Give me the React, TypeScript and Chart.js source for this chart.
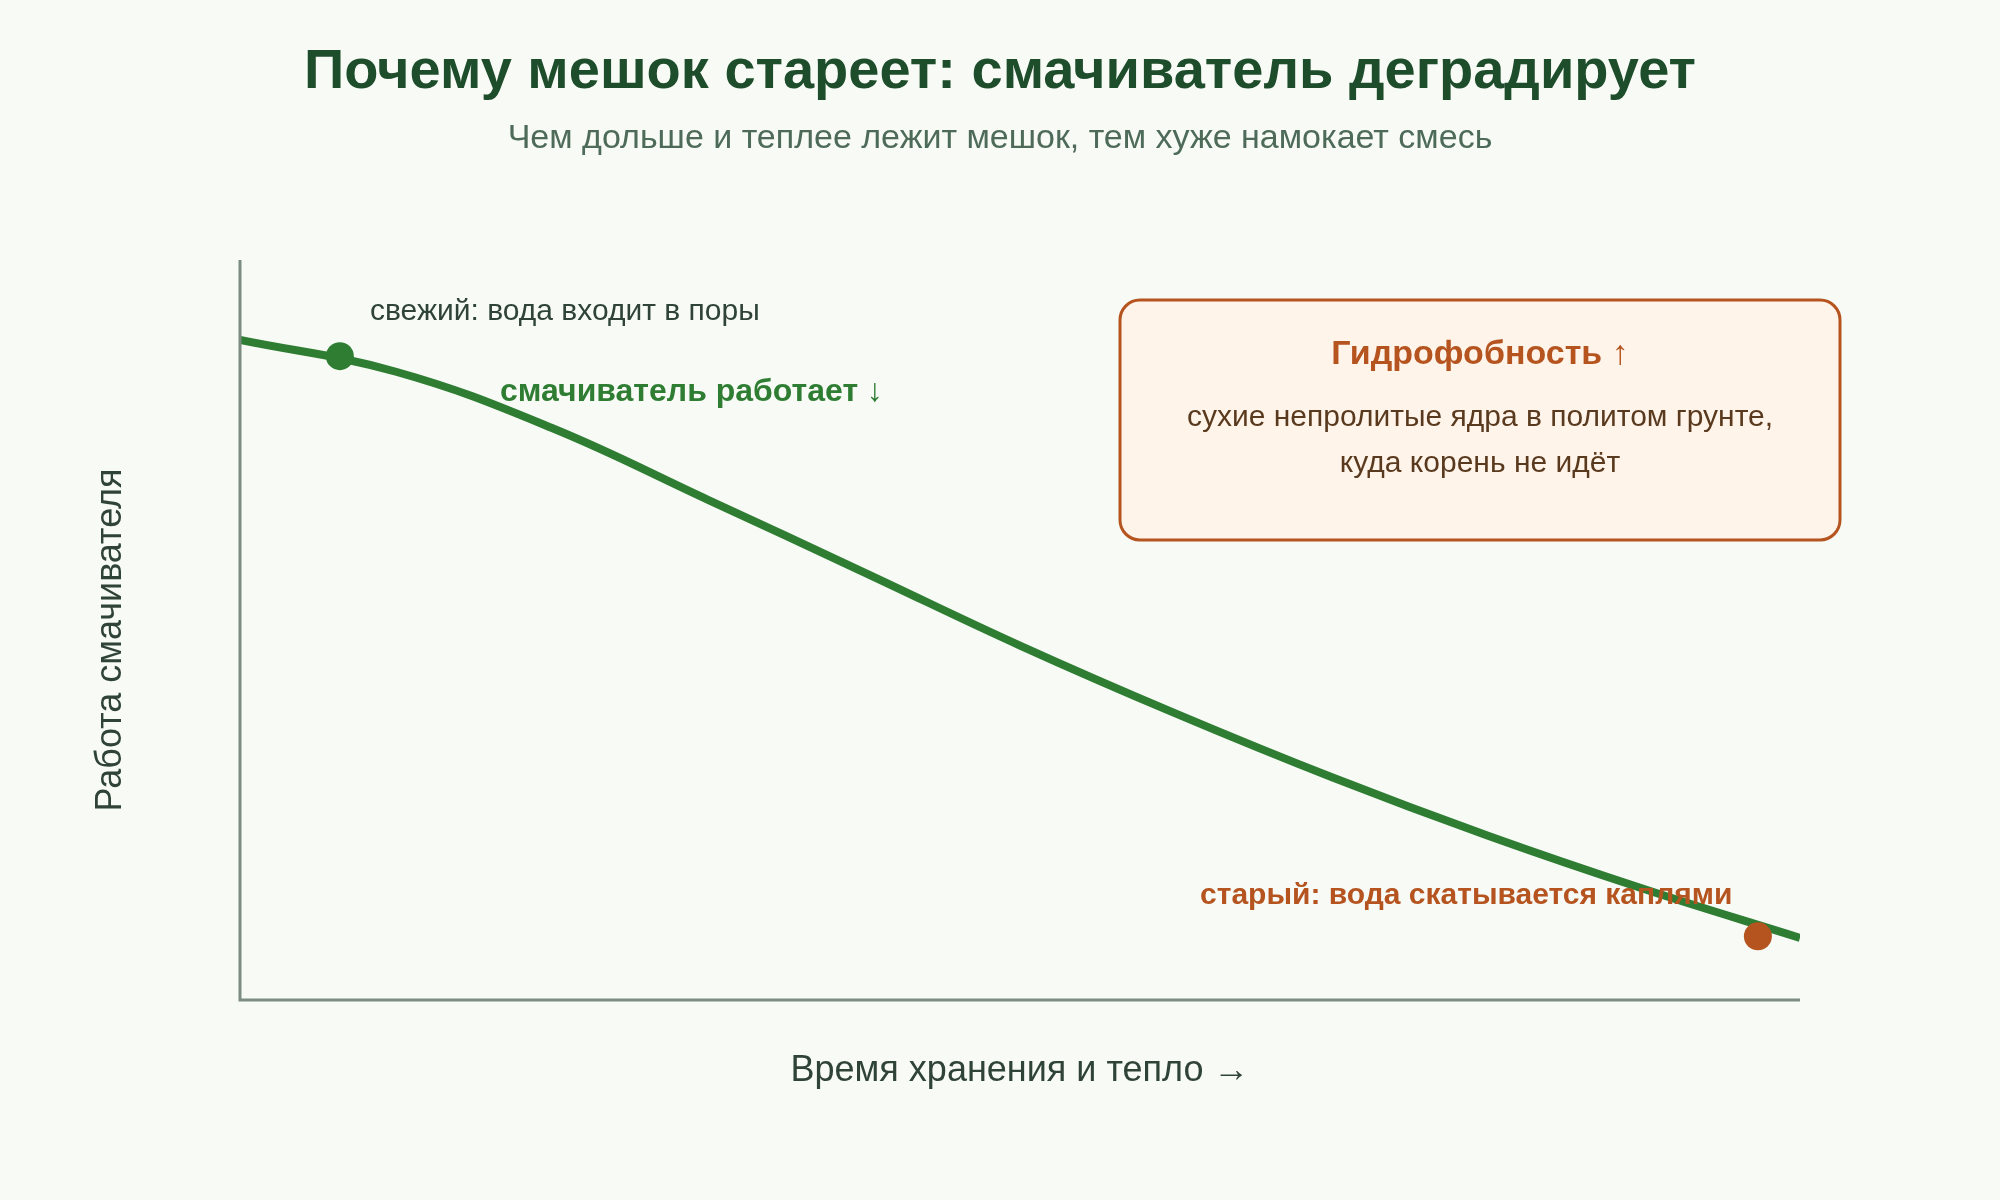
import React, { useEffect, useRef } from "react";
import { Chart, registerables } from "chart.js";

Chart.register(...registerables);

// ---- data ----
const curveX = [0, 10, 20, 30, 40, 50, 60, 70, 80, 90, 100];
const curveY = [89.2, 84.9, 77.3, 67.6, 57.8, 47.9, 38.7, 30.1, 22.2, 15.0, 8.4];

const markerX = [6.4, 97.3];
const markerY = [87.0, 8.6];
const markerColors = ["#2e7d32", "#b5541f"];

const titleText = "Почему мешок стареет: смачиватель деградирует";
const subtitleText = "Чем дольше и теплее лежит мешок, тем хуже намокает смесь";
const yAxisLabel = "Работа смачивателя";
const xAxisLabel = "Время хранения и тепло →";
const freshLabel = "свежий: вода входит в поры";
const workLabel = "смачиватель работает ↓";
const oldLabel = "старый: вода скатывается каплями";
const boxTitle = "Гидрофобность ↑";
const boxLines = ["сухие непролитые ядра в политом грунте,", "куда корень не идёт"];

const FONT = '"Liberation Sans", Arial, sans-serif';

const textPlugin = {
  id: "textPlugin",
  afterDatasetsDraw(chart: any) {
    const { ctx, chartArea } = chart;
    const { left, right, top, bottom } = chartArea;
    ctx.save();

    // axes
    ctx.strokeStyle = "#7b8c80";
    ctx.lineWidth = 3;
    ctx.beginPath();
    ctx.moveTo(left, top);
    ctx.lineTo(left, bottom + 1.5);
    ctx.moveTo(left - 1.5, bottom);
    ctx.lineTo(right, bottom);
    ctx.stroke();

    // title & subtitle
    ctx.textAlign = "center";
    ctx.textBaseline = "alphabetic";
    ctx.fillStyle = "#1e4d2b";
    ctx.font = `bold 56px ${FONT}`;
    ctx.fillText(titleText, 1000, 88);
    ctx.fillStyle = "#4d6b58";
    ctx.font = `34px ${FONT}`;
    ctx.fillText(subtitleText, 1000, 148);

    // x axis label
    ctx.fillStyle = "#2f4336";
    ctx.font = `36px ${FONT}`;
    ctx.fillText(xAxisLabel, (left + right) / 2, 1081);

    // y axis label
    ctx.save();
    ctx.translate(121, 640);
    ctx.rotate(-Math.PI / 2);
    ctx.fillText(yAxisLabel, 0, 0);
    ctx.restore();

    // annotations
    ctx.textAlign = "left";
    ctx.fillStyle = "#2f4336";
    ctx.font = `30px ${FONT}`;
    ctx.fillText(freshLabel, 370, 320);

    ctx.fillStyle = "#2e7d32";
    ctx.font = `bold 32px ${FONT}`;
    ctx.fillText(workLabel, 500, 401);

    ctx.fillStyle = "#b5541f";
    ctx.font = `bold 30px ${FONT}`;
    ctx.fillText(oldLabel, 1200, 904);

    // box
    const bx = 1120, by = 300, bw = 720, bh = 240;
    ctx.beginPath();
    ctx.roundRect(bx, by, bw, bh, 20);
    ctx.fillStyle = "#fff4ea";
    ctx.fill();
    ctx.strokeStyle = "#b5541f";
    ctx.lineWidth = 3;
    ctx.stroke();

    ctx.textAlign = "center";
    ctx.fillStyle = "#b5541f";
    ctx.font = `bold 34px ${FONT}`;
    ctx.fillText(boxTitle, bx + bw / 2, 364);
    ctx.fillStyle = "#5a3a1e";
    ctx.font = `30px ${FONT}`;
    ctx.fillText(boxLines[0], bx + bw / 2, 426);
    ctx.fillText(boxLines[1], bx + bw / 2, 472);

    ctx.restore();
  },
};

export default function App() {
  const ref = useRef<HTMLCanvasElement | null>(null);

  useEffect(() => {
    if (!ref.current) return;
    const chart = new Chart(ref.current, {
      type: "line",
      data: {
        datasets: [
          {
            type: "scatter",
            data: markerX.map((x, i) => ({ x, y: markerY[i] })),
            pointRadius: 14,
            pointHoverRadius: 14,
            pointBackgroundColor: markerColors,
            pointBorderWidth: 0,
            showLine: false,
            order: 0,
          } as any,
          {
            type: "line",
            data: curveX.map((x, i) => ({ x, y: curveY[i] })),
            borderColor: "#2e7d32",
            borderWidth: 8,
            pointRadius: 0,
            fill: false,
            tension: 0.4,
            order: 1,
          } as any,
        ],
      },
      options: {
        responsive: false,
        animation: false,
        layout: { padding: { left: 240, right: 200, top: 260, bottom: 200 } },
        plugins: { legend: { display: false }, tooltip: { enabled: false }, title: { display: false } },
        scales: {
          x: { type: "linear", min: 0, max: 100, display: false },
          y: { type: "linear", min: 0, max: 100, display: false },
        },
      },
      plugins: [textPlugin],
    });
    return () => chart.destroy();
  }, []);

  return (
    <div style={{ position: "fixed", left: 0, top: 0, width: 2000, height: 1200, background: "#f7faf5" }}>
      <canvas ref={ref} width={2000} height={1200} style={{ width: 2000, height: 1200, display: "block" }} />
    </div>
  );
}
